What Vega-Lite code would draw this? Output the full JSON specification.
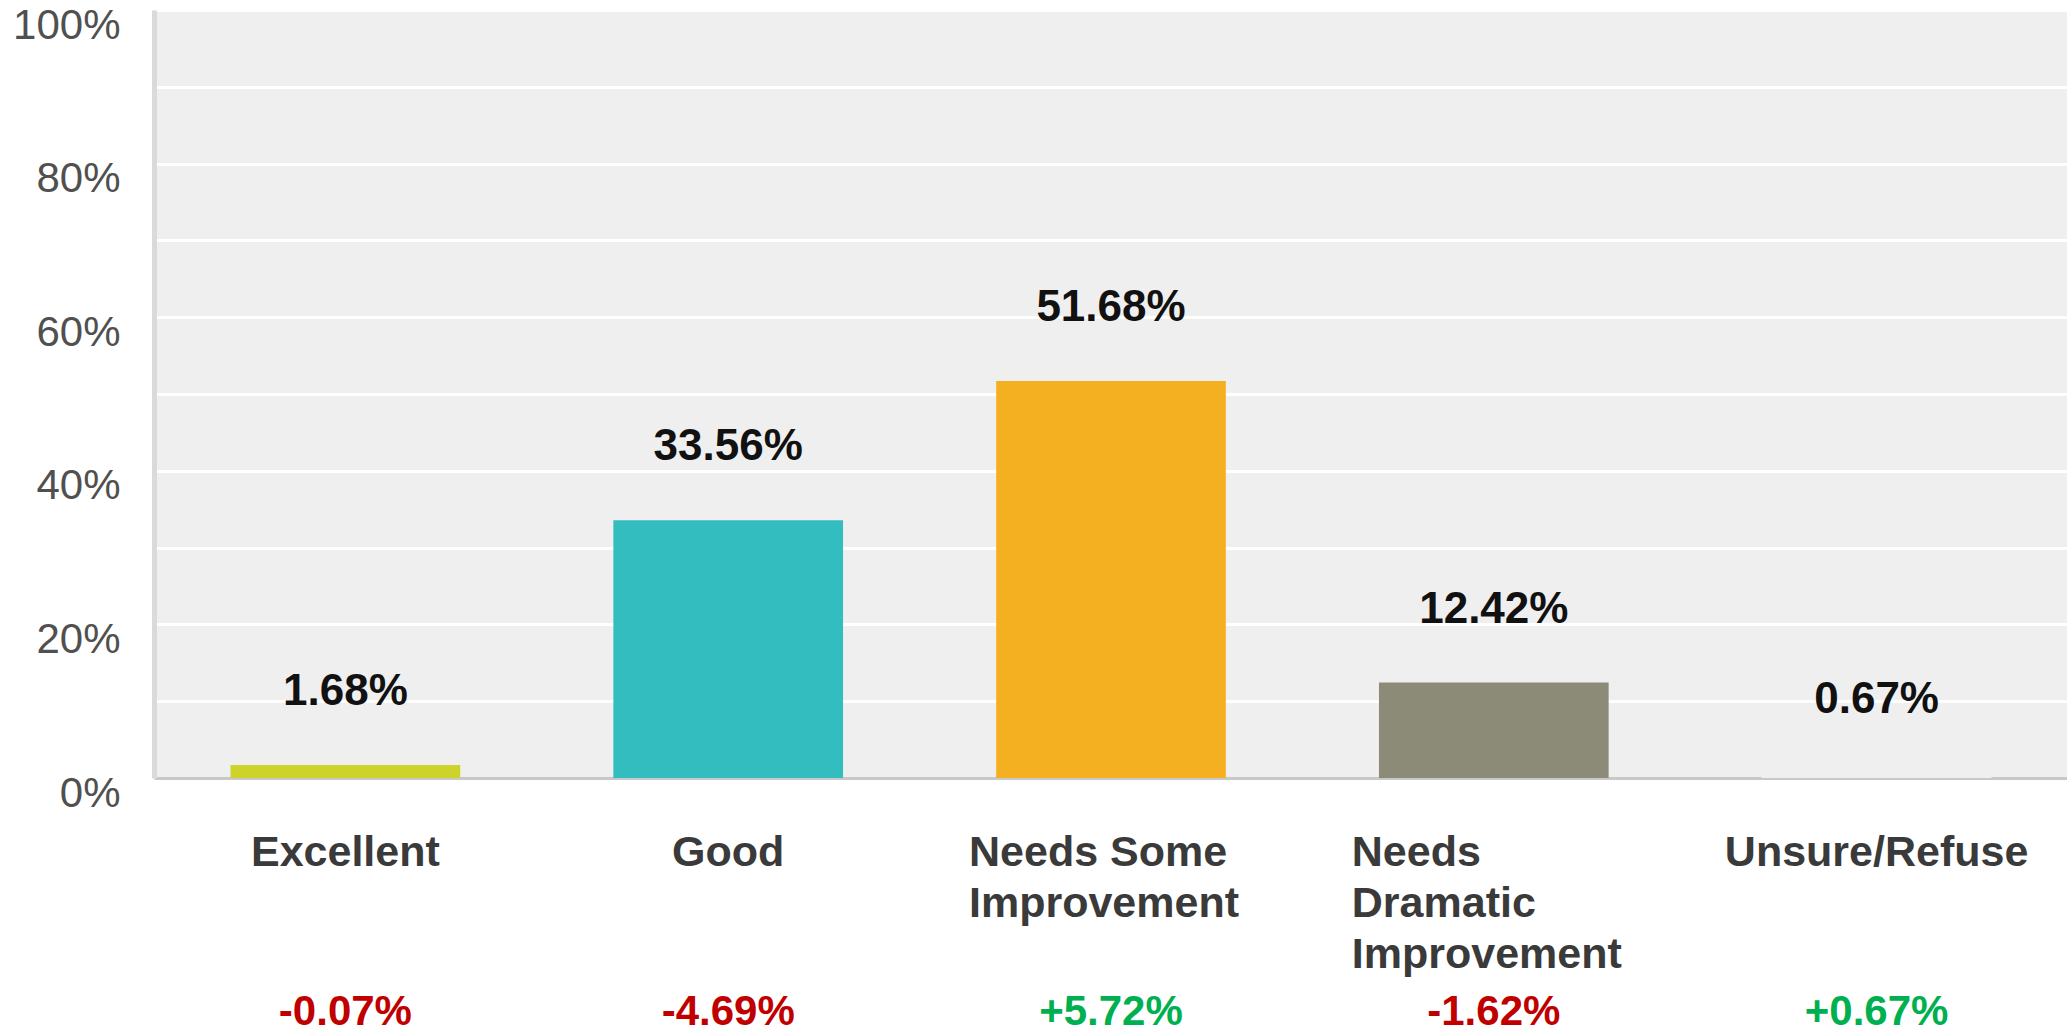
{
  "$schema": "https://vega.github.io/schema/vega-lite/v6.json",
  "width": 1914,
  "height": 768,
  "autosize": {"type": "pad"},
  "padding": {"left": 12, "top": 4, "right": 0, "bottom": 0},
  "background": "white",
  "config": {"view": {"stroke": null, "fill": "#efefef"}},
  "data": {
    "values": [
      {"category": "Excellent", "value": 1.68, "change": -0.07},
      {"category": "Good", "value": 33.56, "change": -4.69},
      {"category": "Needs Some Improvement", "value": 51.68, "change": 5.72},
      {"category": "Needs Dramatic Improvement", "value": 12.42, "change": -1.62},
      {"category": "Unsure/Refuse", "value": 0.67, "change": 0.67}
    ]
  },
  "transform": [
    {"calculate": "format(datum.value, '.2f') + '%'", "as": "valueLabel"},
    {"calculate": "(datum.change > 0 ? '+' : '-') + format(abs(datum.change), '.2f') + '%'", "as": "changeLabel"}
  ],
  "encoding": {
    "x": {
      "field": "category",
      "type": "nominal",
      "sort": null,
      "scale": {"paddingInner": 0.4, "paddingOuter": 0.2},
      "axis": {
        "title": null,
        "labelAngle": 0,
        "ticks": false,
        "domainColor": "#c8c8c8",
        "domainWidth": 3,
        "labelFont": "Liberation Sans",
        "labelFontWeight": "bold",
        "labelFontSize": 43,
        "labelColor": "#3a3a3a",
        "labelPadding": 53,
        "labelLineHeight": 51,
        "labelLimit": 0,
        "labelAlign": {"condition": {"test": "indexof(datum.value, 'Needs') == 0", "value": "left"}, "value": "center"},
        "labelOffset": {"condition": {"test": "indexof(datum.value, 'Needs') == 0", "value": -142}, "value": 0},
        "labelExpr": "datum.value == 'Needs Some Improvement' ? ['Needs Some', 'Improvement'] : split(datum.value, ' ')"
      }
    }
  },
  "layer": [
    {
      "mark": {"type": "bar"},
      "encoding": {
        "y": {
          "field": "value",
          "type": "quantitative",
          "scale": {"domain": [0, 100], "nice": false},
          "axis": {
            "title": null,
            "values": [0, 10, 20, 30, 40, 50, 60, 70, 80, 90, 100],
            "labelExpr": "datum.value % 20 == 0 ? datum.value + '%' : ''",
            "ticks": false,
            "domainColor": "#dadada",
            "domainWidth": 5,
            "gridColor": "white",
            "gridWidth": 3,
            "labelFont": "Liberation Sans",
            "labelFontSize": 42,
            "labelColor": "#505050",
            "labelPadding": 34,
            "labelOffset": 15
          }
        },
        "color": {
          "field": "category",
          "type": "nominal",
          "sort": null,
          "legend": null,
          "scale": {
            "domain": ["Excellent", "Good", "Needs Some Improvement", "Needs Dramatic Improvement", "Unsure/Refuse"],
            "range": ["#cdd32a", "#34bdbf", "#f5b021", "#8b8b78", "#efefef"]
          }
        }
      }
    },
    {
      "mark": {"type": "text", "font": "Liberation Sans", "fontWeight": "bold", "fontSize": 44, "color": "#111111", "baseline": "alphabetic", "dy": -60},
      "encoding": {
        "y": {"field": "value", "type": "quantitative"},
        "text": {"field": "valueLabel"}
      }
    },
    {
      "mark": {"type": "text", "font": "Liberation Sans", "fontWeight": "bold", "fontSize": 42, "baseline": "middle", "dy": 234, "clip": false},
      "encoding": {
        "y": {"datum": 0, "type": "quantitative"},
        "text": {"field": "changeLabel"},
        "color": {
          "condition": {"test": "datum.change < 0", "value": "#c00000"},
          "value": "#00b050"
        }
      }
    }
  ]
}
